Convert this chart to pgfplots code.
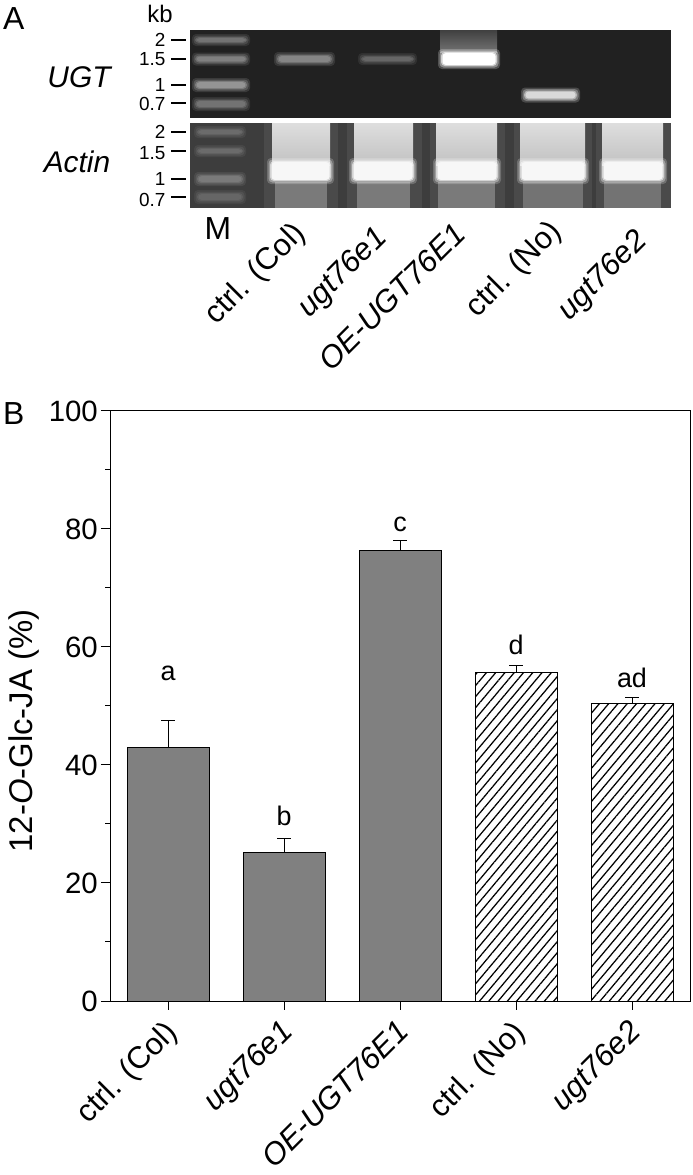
\documentclass[border=0pt]{standalone}
\usepackage{pgfplots}
\pgfplotsset{compat=1.18}
\usepackage{fontspec}
\setmainfont{Liberation Sans}
\usetikzlibrary{patterns.meta}
\newcommand{\fs}[1]{\fontsize{#1}{#1}\selectfont}
% rect x1 x2 y1 y2 style
\newcommand{\rect}[5]{\addplot[draw=none,fill=#5] coordinates {(#1,#3) (#2,#3) (#2,#4) (#1,#4)} --cycle;}
% vertically shaded lane x1 x2 y1 y2 top bottom
\newcommand{\lane}[6]{\addplot[draw=none,top color=#5,bottom color=#6] coordinates {(#1,#3) (#2,#3) (#2,#4) (#1,#4)} --cycle;}
% soft band: x1 x2 yc halfheight colour
\newcommand{\band}[5]{%
\pgfmathsetmacro{\xa}{#1-3}\pgfmathsetmacro{\xb}{#2+3}\pgfmathsetmacro{\ya}{#3-#4-3}\pgfmathsetmacro{\yb}{#3+#4+3}%
\addplot[draw=none,fill=#5,fill opacity=.22,rounded corners=4bp] coordinates {(\xa,\ya) (\xb,\ya) (\xb,\yb) (\xa,\yb)} --cycle;%
\pgfmathsetmacro{\xa}{#1-1.5}\pgfmathsetmacro{\xb}{#2+1.5}\pgfmathsetmacro{\ya}{#3-#4-1.5}\pgfmathsetmacro{\yb}{#3+#4+1.5}%
\addplot[draw=none,fill=#5,fill opacity=.35,rounded corners=4bp] coordinates {(\xa,\ya) (\xb,\ya) (\xb,\yb) (\xa,\yb)} --cycle;%
\addplot[draw=none,fill=#5,fill opacity=.6,rounded corners=4bp] coordinates {(#1,\ya+1.5) (#2,\ya+1.5) (#2,\yb-1.5) (#1,\yb-1.5)} --cycle;%
\pgfmathsetmacro{\xa}{#1+1.5}\pgfmathsetmacro{\xb}{#2-1.5}\pgfmathsetmacro{\ya}{#3-#4+1.2}\pgfmathsetmacro{\yb}{#3+#4-1.2}%
\addplot[draw=none,fill=#5,rounded corners=3bp] coordinates {(\xa,\ya) (\xb,\ya) (\xb,\yb) (\xa,\yb)} --cycle;%
}
\newcommand{\dash}[1]{\addplot[black,line width=1.1bp] coordinates {(171,#1) (186,#1)};}
\begin{document}
\begin{tikzpicture}
\useasboundingbox (0,0) rectangle (693bp,1175bp);
% ---------- panel A in image pixel coordinates
\begin{axis}[at={(0bp,0bp)},anchor=south west,width=693bp,height=1175bp,scale only axis,
  xmin=0,xmax=693,ymin=0,ymax=1175,y dir=reverse,axis lines=none,clip=false]
\rect{190}{671}{30}{118}{black!87}
% ladder
\band{195}{247}{40}{3}{black!55}
\band{195}{247}{59}{3.5}{black!50}
\band{195}{247}{85}{4}{black!42}
\band{195}{247}{104}{4}{black!55}
% UGT bands
\band{277}{332}{59}{4}{black!48}
\band{361}{414}{59}{3}{black!60}
\lane{440}{497}{30}{52}{black!75}{black!55}
\band{441}{497}{59}{7}{white}
\band{524}{577}{95}{4.5}{black!15}
% Actin gel
\rect{190}{671}{123}{208}{black!76}
\rect{264}{338}{123}{208}{black!71}
\rect{347}{422}{123}{208}{black!71}
\rect{430}{505}{123}{208}{black!71}
\rect{514}{592}{123}{208}{black!71}
\rect{596}{671}{123}{208}{black!71}
\band{197}{243}{132}{3}{black!58}
\band{197}{243}{151}{3}{black!58}
\band{197}{243}{179}{4}{black!52}
\band{197}{243}{197}{4}{black!60}
\rect{275}{327}{182}{208}{black!52}
\rect{357}{410}{182}{208}{black!52}
\rect{438}{495}{182}{208}{black!52}
\rect{523}{583}{182}{208}{black!55}
\rect{604}{661}{182}{208}{black!55}
\lane{272}{330}{123}{165}{black!13}{black!24}
\lane{354}{413}{123}{165}{black!13}{black!24}
\lane{436}{497}{123}{165}{black!13}{black!24}
\lane{520}{585}{123}{165}{black!13}{black!24}
\lane{602}{663}{123}{165}{black!13}{black!24}
\band{270}{331}{171}{10}{black!3}
\band{352}{414}{171}{10}{black!3}
\band{436}{498}{171}{10}{black!3}
\band{520}{586}{171}{10}{black!3}
\band{602}{664}{171}{10}{black!3}
% size marker dashes
\dash{40}\dash{59}\dash{85}\dash{103}\dash{132}\dash{151}\dash{179}\dash{197}
\node[anchor=east,font=\fs{19}] at (169,40) {2};
\node[anchor=east,font=\fs{19}] at (169,59) {1.5};
\node[anchor=east,font=\fs{19}] at (169,85) {1};
\node[anchor=east,font=\fs{19}] at (169,104) {0.7};
\node[anchor=east,font=\fs{19}] at (169,132) {2};
\node[anchor=east,font=\fs{19}] at (169,153) {1.5};
\node[anchor=east,font=\fs{19}] at (169,179) {1};
\node[anchor=east,font=\fs{19}] at (169,200) {0.7};
\node[anchor=center,font=\fs{24}] at (160,14) {kb};
\node[anchor=west,font=\fs{32},inner sep=3bp] at (0,19) {A};
\node[anchor=west,font=\fs{32},inner sep=3bp] at (0,414) {B};
\node[anchor=center,font=\fs{30}\itshape] at (79,77) {UGT};
\node[anchor=center,font=\fs{30}\itshape] at (77,162) {Actin};
\node[anchor=center,font=\fs{32}] at (218,229) {M};
\node[rotate=45,anchor=north east,font=\fs{31}] at (291,214) {ctrl. (Col)};
\node[rotate=45,anchor=north east,font=\fs{31}\itshape] at (373,219) {ugt76e1};
\node[rotate=45,anchor=north east,font=\fs{31}\itshape] at (452,216) {OE-UGT76E1};
\node[rotate=45,anchor=north east,font=\fs{31}] at (547,212) {ctrl. (No)};
\node[rotate=45,anchor=north east,font=\fs{31}\itshape] at (633,222) {ugt76e2};
\end{axis}
% ---------- panel B
\begin{axis}[at={(110bp,174bp)},anchor=south west,width=580bp,height=590bp,scale only axis,
  xmin=-0.5,xmax=4.5,ymin=0,ymax=100,
  axis line style={line width=1bp},
  xtick={0,1,2,3,4},
  xticklabels={ctrl. (Col),\textit{ugt76e1},\textit{OE-UGT76E1},ctrl. (No),\textit{ugt76e2}},
  ytick={0,20,40,60,80,100},
  minor y tick num=1,
  tick style={black,line width=1bp},
  tick align=outside,tick pos=left,
  major tick length=9bp,minor tick length=5bp,
  xticklabel style={rotate=45,anchor=north east,font=\fs{31},inner sep=2bp,xshift=-7bp,yshift=0bp},
  yticklabel style={font=\fs{29.5},inner sep=3bp},
  /pgf/number format/assume math mode=true,
  ylabel={12-\textit{O}-Glc-JA (\%)},
  ylabel style={font=\fs{33},at={(axis description cs:0,0.5)},anchor=south,yshift=67bp,xshift=-25bp},
  ybar,bar width=82bp,bar shift=0pt,
  error bars/error bar style={black,line width=1bp},
  error bars/error mark options={rotate=90,mark size=7bp,line width=1bp,black},
  clip=false]
\addplot[fill=black!50,draw=black,line width=1bp,
  error bars/.cd,y dir=plus,y explicit]
  coordinates {(0,43) +- (0,4.5) (1,25.2) +- (0,2.4) (2,76.4) +- (0,1.6)};
\addplot[draw=black,line width=1bp,pattern={Lines[angle=50,distance=7.1bp,line width=1.25bp]},pattern color=black,
  error bars/.cd,y dir=plus,y explicit]
  coordinates {(3,55.7) +- (0,1.1) (4,50.5) +- (0,1)};
\node[font=\fs{27}] at (axis cs:0,55.5) {a};
\node[font=\fs{27}] at (axis cs:1,31.3) {b};
\node[font=\fs{27}] at (axis cs:2,80.8) {c};
\node[font=\fs{27}] at (axis cs:3,60.3) {d};
\node[font=\fs{27}] at (axis cs:4,54.7) {ad};
\end{axis}
\end{tikzpicture}
\end{document}
